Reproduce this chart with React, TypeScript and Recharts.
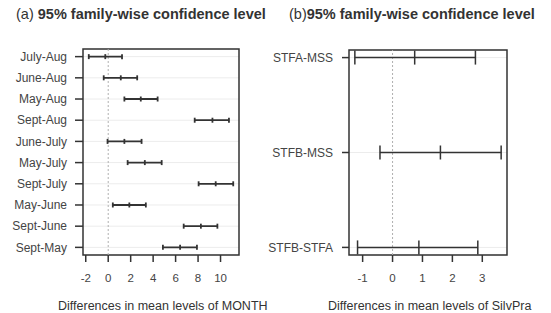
import React from "react";
import { ScatterChart, Scatter, XAxis, YAxis, CartesianGrid, ReferenceLine, ReferenceArea, ErrorBar } from "recharts";

// (a) pairwise differences by MONTH
const monthNames = ['July-Aug', 'June-Aug', 'May-Aug', 'Sept-Aug', 'June-July', 'May-July', 'Sept-July', 'May-June', 'Sept-June', 'Sept-May'];
const monthDiff = [-0.26, 1.12, 2.9, 9.28, 1.44, 3.26, 9.57, 1.88, 8.25, 6.4];
const monthLwr = [-1.73, -0.4, 1.44, 7.7, -0.06, 1.73, 8.05, 0.41, 6.72, 4.87];
const monthUpr = [1.23, 2.58, 4.4, 10.75, 2.97, 4.76, 11.13, 3.35, 9.72, 7.9];
const monthTicks = [-2, 0, 2, 4, 6, 8, 10];

// (b) pairwise differences by SilvPra
const silvNames = ['STFA-MSS', 'STFB-MSS', 'STFB-STFA'];
const silvDiff = [0.74, 1.6, 0.88];
const silvLwr = [-1.26, -0.42, -1.17];
const silvUpr = [2.77, 3.63, 2.85];
const silvTicks = [-1, 0, 1, 2, 3];

const font = '"Liberation Sans", Arial, sans-serif';
const ink = "#333";

type PanelProps = {
  names: string[];
  diff: number[];
  lwr: number[];
  upr: number[];
  ticks: number[];
  left: number;
  width: number;
  top: number;
  right: number;
  yWidth: number;
  yTickSize: number;
  yTickMargin: number;
  cap: number;
  lineW: number;
};

const TukeyPanel: React.FC<PanelProps> = (p) => {
  const n = p.names.length;
  const data = p.names.map((name, i) => ({
    idx: i,
    name,
    mid: p.diff[i],
    err: [p.diff[i] - p.lwr[i], p.upr[i] - p.diff[i]],
  }));
  // R style: extend range by 4%
  const lo = Math.min(...p.lwr);
  const hi = Math.max(...p.upr);
  const xMin = lo - (hi - lo) * 0.04;
  const xMax = hi + (hi - lo) * 0.04;
  const yMin = -(n - 1) * 0.04;
  const yMax = (n - 1) * 1.04;

  return (
    <div style={{ position: "absolute", left: p.left, top: 0 }}>
      <ScatterChart width={p.width} height={313} margin={{ top: p.top, right: p.right, bottom: 0, left: 0 }}>
        <CartesianGrid vertical={false} stroke="#ececec" />
        <XAxis
          type="number"
          dataKey="mid"
          domain={[xMin, xMax]}
          allowDataOverflow
          ticks={p.ticks}
          height={58}
          axisLine={false}
          tickSize={7}
          tickMargin={12}
          tickLine={{ stroke: ink, strokeWidth: 1.5 }}
          tick={{ fill: "#444", fontSize: 11.5, fontFamily: font }}
        />
        <YAxis
          type="number"
          dataKey="idx"
          domain={[yMin, yMax]}
          allowDataOverflow
          reversed
          ticks={p.names.map((_, i) => i)}
          interval={0}
          tickFormatter={(v: number) => p.names[v]}
          width={p.yWidth}
          axisLine={false}
          tickSize={p.yTickSize}
          tickMargin={p.yTickMargin}
          tickLine={{ stroke: ink, strokeWidth: 1.5 }}
          tick={{ fill: "#444", fontSize: 12, fontFamily: font }}
        />
        <ReferenceLine x={0} stroke="#b0b0b0" strokeDasharray="2 2" />
        <ReferenceArea x1={xMin} x2={xMax} y1={yMin} y2={yMax} fill="none" stroke={ink} strokeWidth={1.5} ifOverflow="visible" />
        <Scatter
          data={data}
          isAnimationActive={false}
          shape={(s: any) => (
            <line x1={s.cx} x2={s.cx} y1={s.cy - p.cap} y2={s.cy + p.cap} stroke={ink} strokeWidth={p.lineW} />
          )}
        >
          <ErrorBar dataKey="err" direction="x" width={p.cap} stroke={ink} strokeWidth={p.lineW} isAnimationActive={false} />
        </Scatter>
      </ScatterChart>
    </div>
  );
};

const App: React.FC = () => {
  return (
    <div style={{ position: "absolute", left: 0, top: 0, width: 551, height: 313, background: "#fff", fontFamily: font, color: "#333" }}>
      <div style={{ position: "absolute", left: 16, top: 6, fontSize: 14.5, lineHeight: "17px", whiteSpace: "nowrap" }}>
        (a) <b>95% family-wise confidence level</b>
      </div>
      <div style={{ position: "absolute", left: 289, top: 6, fontSize: 14.5, lineHeight: "17px", whiteSpace: "nowrap" }}>
        (b)<b>95% family-wise confidence level</b>
      </div>
      <TukeyPanel
        names={monthNames} diff={monthDiff} lwr={monthLwr} upr={monthUpr} ticks={monthTicks}
        left={0} width={260} top={49} right={21} yWidth={83} yTickSize={8} yTickMargin={8} cap={2.5} lineW={1.8}
      />
      <TukeyPanel
        names={silvNames} diff={silvDiff} lwr={silvLwr} upr={silvUpr} ticks={silvTicks}
        left={260} width={291} top={50} right={44} yWidth={89} yTickSize={7} yTickMargin={9} cap={7} lineW={1.5}
      />
      <div style={{ position: "absolute", left: 58, width: 200, top: 299, fontSize: 12.5, textAlign: "center", whiteSpace: "nowrap" }}>
        Differences in mean levels of MONTH
      </div>
      <div style={{ position: "absolute", left: 328, width: 200, top: 299, fontSize: 12.5, textAlign: "center", whiteSpace: "nowrap" }}>
        Differences in mean levels of SilvPra
      </div>
    </div>
  );
};

export default App;
